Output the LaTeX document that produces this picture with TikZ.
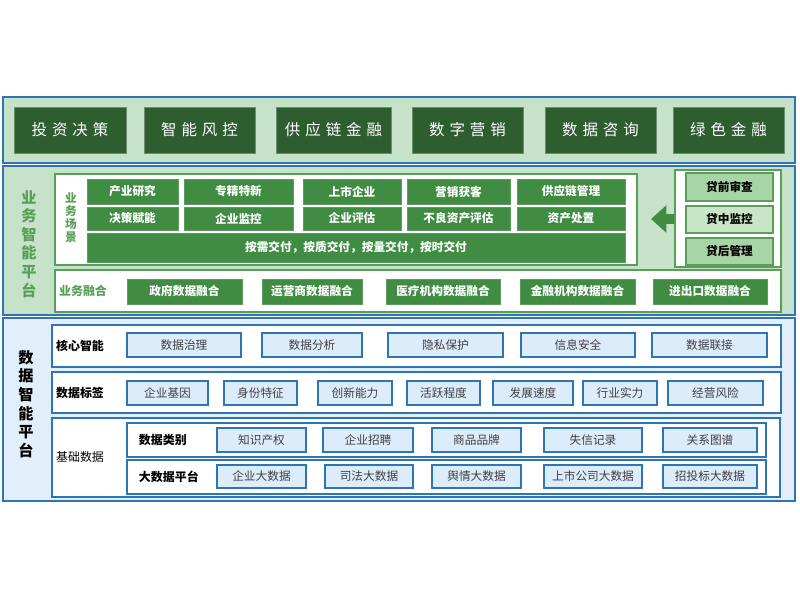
\documentclass[tikz,border=0pt]{standalone}
\usepackage{fontspec}
\setmainfont{Noto Sans CJK SC}
\usetikzlibrary{arrows.meta}

\definecolor{bandgreen}{HTML}{C6E2C8}
\definecolor{darkgreen}{HTML}{2E5E30}
\definecolor{midgreen}{HTML}{3F8C42}
\definecolor{linegreen}{HTML}{58A058}
\definecolor{loanfill}{HTML}{A9D4A7}
\definecolor{loanlite}{HTML}{C9E5C7}
\definecolor{edgeblue}{HTML}{2E75B6}
\definecolor{bandblue}{HTML}{E2EEF9}
\definecolor{cellblue}{HTML}{DDECFA}

\newcommand{\ks}{\hspace{0.32em}}   % gap between characters in the top row

\begin{document}
\begin{tikzpicture}[
    x=0.025cm, y=-0.025cm,
    band/.style={draw=edgeblue, line width=1.1pt, inner sep=0pt},
    gpanel/.style={draw=linegreen, fill=white, line width=1.3pt, inner sep=0pt},
    bpanel/.style={draw=edgeblue, fill=white, line width=1.3pt, inner sep=0pt},
    appbox/.style={fill=darkgreen, draw=darkgreen!70!white, line width=0.6pt,
        inner sep=0pt, text=white, font=\fontsize{11}{13}\selectfont},
    scenebox/.style={fill=midgreen, draw=midgreen!85!white, line width=0.5pt,
        inner sep=0pt, text=white, font=\fontsize{8.3}{10}\selectfont\bfseries},
    loanbox/.style={draw=linegreen, line width=1.3pt, inner sep=0pt,
        font=\fontsize{8.3}{10}\selectfont\bfseries},
    databox/.style={fill=cellblue, draw=edgeblue, line width=1.3pt,
        inner sep=0pt, text=black!75, font=\fontsize{8.3}{10}\selectfont},
    rowlabel/.style={font=\fontsize{8.5}{10}\selectfont\bfseries},
    sidelabel/.style={font=\fontsize{10.8}{13.2}\selectfont\bfseries, align=center},
    % box from its left/right and top/bottom edges, in pixels
    span/.style n args={4}{minimum width={(#2-#1)*\pu}, minimum height={(#4-#3)*\pu}},
]

\def\pu{0.025cm}   % one pixel of the 800x600 sheet

\useasboundingbox (0,0) rectangle (800,600);

% ── Application row ─────────────────────────────────────────
\node[band, fill=bandgreen, span={3}{795}{97}{163}] (appband) at (399,130) {};
\foreach \i/\xa/\xb/\t in {1/14/126/投\ks 资\ks 决\ks 策,
                           2/144/255/智\ks 能\ks 风\ks 控,
                           3/276/391/供\ks 应\ks 链\ks 金\ks 融,
                           4/412/523/数\ks 字\ks 营\ks 销,
                           5/545/656/数\ks 据\ks 咨\ks 询,
                           6/673/784/绿\ks 色\ks 金\ks 融} {
    \node[appbox, span={\xa}{\xb}{107}{153}] (app\i) at ({(\xa+\xb)/2},130) {\t};
}

% ── Business intelligence platform ──────────────────────────
\node[band, fill=bandgreen, span={3}{795}{166}{315}] (bizband) at (399,240.5) {};
\node[sidelabel, text=linegreen] (biztitle) at (29,244)
    {业\\务\\智\\能\\平\\台};

% Scenarios
\node[gpanel, span={55}{637}{174}{265}] (scene) at (346,219.5) {};
\node[rowlabel, text=linegreen, align=center,
    font=\fontsize{8.3}{9.2}\selectfont\bfseries] (scenetitle) at (71,218)
    {业\\务\\场\\景};

\foreach \i/\xa/\xb/\t in {1/87/178/产业研究, 2/184/293/专精特新,
                           3/303/401/上市企业, 4/407/510/营销获客,
                           5/517/625/供应链管理} {
    \node[scenebox, span={\xa}{\xb}{179}{204}] (sa\i) at ({(\xa+\xb)/2},191.5) {\t};
}
\foreach \i/\xa/\xb/\t in {1/87/178/决策赋能, 2/184/293/企业监控,
                           3/303/401/企业评估, 4/407/510/不良资产评估,
                           5/517/625/资产处置} {
    \node[scenebox, span={\xa}{\xb}{207}{230}] (sb\i) at ({(\xa+\xb)/2},218.5) {\t};
}
\node[scenebox, span={87}{625}{233}{262}] (delivery) at (356,247.5)
    {按需交付，按质交付，按量交付，按时交付};

% Loan stages
\node[gpanel, span={675}{781}{170}{267}] (loan) at (728,218.5) {};
\node[loanbox, fill=loanfill, span={686}{773}{173}{201}] (loan1) at (729.5,187) {贷前审查};
\node[loanbox, fill=loanlite, span={686}{773}{206}{233}] (loan2) at (729.5,219.5) {贷中监控};
\node[loanbox, fill=loanfill, span={686}{773}{238}{265}] (loan3) at (729.5,251.5) {贷后管理};

\coordinate (arrowtip) at (651,219);
\draw[midgreen, line width=7pt,
    -{Triangle[length=11pt, width=19pt]}] (loan.west |- arrowtip) -- (arrowtip);

% Fusion
\node[gpanel, span={55}{781}{270}{312}] (fusion) at (418,291) {};
\node[rowlabel, text=linegreen] (fusiontitle) at (83,291) {业务融合};
\foreach \i/\xa/\xb/\t in {1/127/242/政府数据融合, 2/262/362/运营商数据融合,
                           3/386/500/医疗机构数据融合, 4/520/635/金融机构数据融合,
                           5/653/767/进出口数据融合} {
    \node[scenebox, span={\xa}{\xb}{279}{304}] (fu\i) at ({(\xa+\xb)/2},291.5) {\t};
}

% ── Data intelligence platform ──────────────────────────────
\node[band, fill=bandblue, span={3}{795}{318}{501}] (databand) at (399,409.5) {};
\node[sidelabel] (datatitle) at (26,404) {数\\据\\智\\能\\平\\台};

% Core intelligence
\node[bpanel, span={52}{781}{325}{367}] (core) at (416.5,346) {};
\node[rowlabel] (coretitle) at (80,346) {核心智能};
\foreach \i/\xa/\xb/\t in {1/127/241/数据治理, 2/262/362/数据分析,
                           3/388/503/隐私保护, 4/521/635/信息安全,
                           5/652/767/数据联接} {
    \node[databox, span={\xa}{\xb}{333}{357}] (co\i) at ({(\xa+\xb)/2},345) {\t};
}

% Data tags
\node[bpanel, span={52}{781}{372}{413}] (tags) at (416.5,392.5) {};
\node[rowlabel] (tagtitle) at (80,393) {数据标签};
\foreach \i/\xa/\xb/\t in {1/127/208/企业基因, 2/224/297/身份特征,
                           3/318/392/创新能力, 4/407/480/活跃程度,
                           5/493/573/发展速度, 6/583/657/行业实力,
                           7/668/763/经营风险} {
    \node[databox, span={\xa}{\xb}{381}{405}] (tg\i) at ({(\xa+\xb)/2},393) {\t};
}

% Base data
\node[bpanel, span={52}{780}{418}{497}] (base) at (416,457.5) {};
\node[rowlabel, font=\fontsize{8.5}{10}\selectfont] (basetitle) at (80,457) {基础数据};

\node[bpanel, span={127}{766}{423}{457}] (kinds) at (446.5,440) {};
\node[rowlabel, anchor=west] (kindtitle) at (134,440) {数据类别};
\foreach \i/\xa/\xb/\t in {1/217/306/知识产权, 2/323/413/企业招聘,
                           3/432/521/商品品牌, 4/544/642/失信记录,
                           5/663/757/关系图谱} {
    \node[databox, span={\xa}{\xb}{428}{452}] (ki\i) at ({(\xa+\xb)/2},440) {\t};
}

\node[bpanel, span={127}{766}{460}{494}] (bigdata) at (446.5,477) {};
\node[rowlabel, anchor=west] (bigtitle) at (134,477) {大数据平台};
\foreach \i/\xa/\xb/\t in {1/217/306/企业大数据, 2/325/413/司法大数据,
                           3/432/521/舆情大数据, 4/544/642/上市公司大数据,
                           5/663/757/招投标大数据} {
    \node[databox, span={\xa}{\xb}{465}{488}] (bd\i) at ({(\xa+\xb)/2},476.5) {\t};
}

\end{tikzpicture}
\end{document}
